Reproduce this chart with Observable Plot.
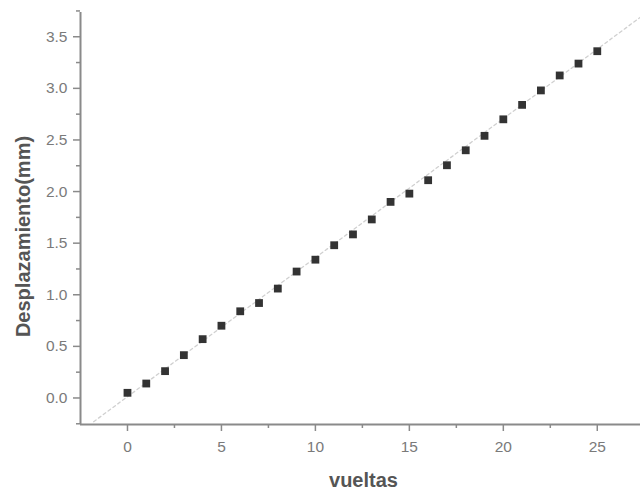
<!DOCTYPE html>
<html>
<head>
<meta charset="utf-8">
<script src="https://cdn.jsdelivr.net/npm/d3@7"></script>
<script src="https://cdn.jsdelivr.net/npm/@observablehq/plot@0.6"></script>
<style>
  html, body { margin: 0; padding: 0; background: #fff; }
  #chart svg { display: block; }
</style>
</head>
<body>
<div id="chart"></div>
<script>
// Data
const vueltas = [0,1,2,3,4,5,6,7,8,9,10,11,12,13,14,15,16,17,18,19,20,21,22,23,24,25];
const desplazamiento = [0.05,0.14,0.26,0.415,0.57,0.70,0.84,0.92,1.06,1.225,1.34,1.48,1.585,1.73,1.90,1.98,2.11,2.255,2.40,2.54,2.70,2.84,2.98,3.125,3.24,3.36];
// Fitted line end points
const fitX = [-1.8, 27.3];
const fitY = [-0.23, 3.69];
// Tick values
const xTicks = [0, 5, 10, 15, 20, 25];
const xMinorTicks = [2.5, 7.5, 12.5, 17.5, 22.5];
const yTicks = [0, 0.5, 1, 1.5, 2, 2.5, 3, 3.5];
const yMinorTicks = [-0.25, 0.25, 0.75, 1.25, 1.75, 2.25, 2.75, 3.25, 3.75];
const xDomain = [-2.5, 27.3];
const yDomain = [-0.257, 3.735];

const points = vueltas.map((v, i) => ({x: v, y: desplazamiento[i]}));
const fit = fitX.map((v, i) => ({x: v, y: fitY[i]}));

const axisColor = "#8a8a8a";
const labelColor = "#7a7a7a";
const titleColor = "#555";

const chart = Plot.plot({
  width: 640,
  height: 491,
  marginLeft: 80,
  marginRight: 0,
  marginTop: 12,
  marginBottom: 67,
  style: {fontFamily: "'Liberation Sans', Arial, sans-serif", background: "#fff"},
  x: {domain: xDomain},
  y: {domain: yDomain},
  marks: [
    Plot.line(fit, {x: "x", y: "y", stroke: "#d0d0d0", strokeWidth: 1.3, strokeDasharray: "3,3", clip: true}),
    Plot.ruleX([xDomain[0]], {stroke: axisColor, strokeWidth: 2}),
    Plot.ruleY([yDomain[0]], {stroke: axisColor, strokeWidth: 2}),
    Plot.axisY({ticks: yTicks, tickSize: 7, tickPadding: 6, stroke: axisColor, strokeWidth: 1.5,
      tickFormat: d3.format(".1f"), fontSize: 15.5, color: labelColor, label: null}),
    Plot.axisY({ticks: yMinorTicks, tickSize: 4, stroke: axisColor, strokeWidth: 1.5, tickFormat: null, text: null, label: null}),
    Plot.axisX({ticks: xTicks, tickSize: 7, tickPadding: 9, stroke: axisColor, strokeWidth: 1.5,
      fontSize: 15.5, color: labelColor, label: null}),
    Plot.axisX({ticks: xMinorTicks, tickSize: 4, stroke: axisColor, strokeWidth: 1.5, tickFormat: null, text: null, label: null}),
    Plot.dot(points, {x: "x", y: "y", symbol: "square", r: 4.4, fill: "#333", stroke: "none"}),
    Plot.text(["vueltas"], {frameAnchor: "bottom", textAnchor: "middle", dy: 62, dx: 3, fontSize: 20, fontWeight: "bold", fill: titleColor}),
    Plot.text(["Desplazamiento(mm)"], {frameAnchor: "left", textAnchor: "middle", rotate: -90, dx: -57, dy: 18, fontSize: 20, fontWeight: "bold", fill: titleColor})
  ]
});
document.getElementById("chart").appendChild(chart);
</script>
</body>
</html>
